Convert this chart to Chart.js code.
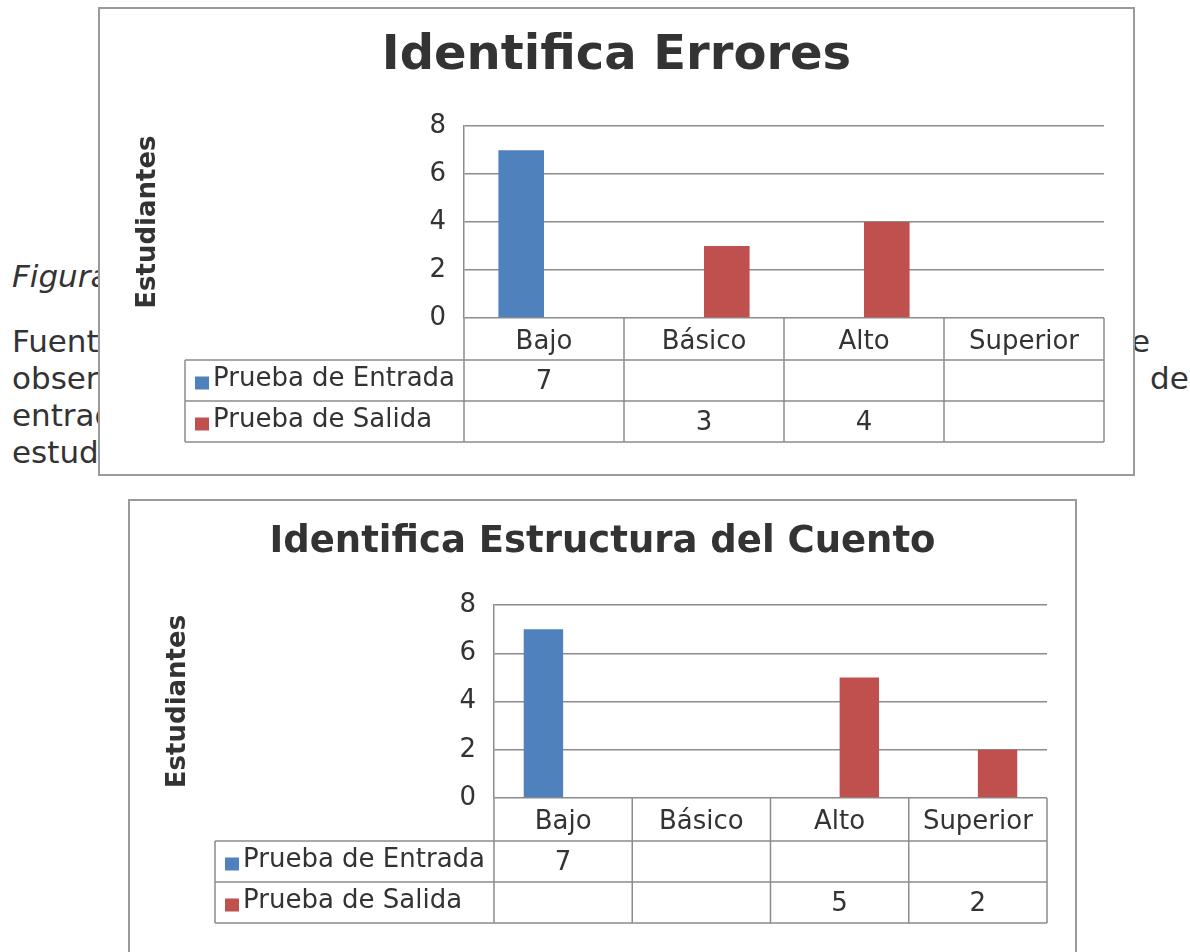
<!DOCTYPE html>
<html>
<head>
<meta charset="utf-8">
<script src="https://cdn.jsdelivr.net/npm/chart.js@4.4.1/dist/chart.umd.min.js"></script>
<style>
  body { margin: 0; width: 1190px; height: 952px; overflow: hidden; position: relative; background: #fff; font-family: "DejaVu Sans"; color: #333; }
  .txt { position: absolute; font-size: 31px; line-height: 1; white-space: nowrap; }
  .box { position: absolute; border: 2px solid #9a9a9a; background: #fff; box-sizing: border-box; }
  .box canvas { display: block; }
</style>
</head>
<body>
<div class="txt" style="left:12px;top:261px;font-style:italic">Figura 3. Resultados de la prueba de entrada y salida</div>
<div class="txt" style="left:12px;top:326px">Fuente: elaboración propia a partir de los resultados. Se</div>
<div class="txt" style="left:12px;top:363px">observa el avance de los estudiantes entre la prueba de</div>
<div class="txt" style="left:12px;top:400px">entrada y la prueba de salida en el nivel de logro de los</div>
<div class="txt" style="left:12px;top:437px">estudiantes.</div>
<div class="txt" style="left:1131px;top:326px">e</div>
<div class="txt" style="left:1150px;top:363px">de</div>

<div class="box" style="left:98px;top:7px;width:1037px;height:469px">
  <canvas id="chartErrores" width="1033" height="465"></canvas>
</div>
<div class="box" style="left:128px;top:499px;width:949px;height:470px">
  <canvas id="chartCuento" width="945" height="466"></canvas>
</div>

<script>
var categories = ['Bajo', 'Básico', 'Alto', 'Superior'];
var seriesNames = ['Prueba de Entrada', 'Prueba de Salida'];
var seriesColors = ['#4F81BD', '#C0504D'];

// Identifica Errores
var erroresEntrada = [7, null, null, null];
var erroresSalida = [null, 3, 4, null];

// Identifica Estructura del Cuento
var cuentoEntrada = [7, null, null, null];
var cuentoSalida = [null, null, 5, 2];

var yMin = 0, yMax = 8, yStep = 2;
var textColor = '#333';
var lineColor = '#8c8c8c';

// draws the data table under the plot, using the x scale for the columns
var dataTablePlugin = {
    id: 'dataTable',
    afterDraw: function (chart, args, opts) {
        var ctx = chart.ctx;
        var xs = chart.scales.x;
        var area = chart.chartArea;
        var n = chart.data.labels.length;
        var half = (xs.getPixelForValue(1) - xs.getPixelForValue(0)) / 2;
        var top = area.bottom;
        var rows = [top + opts.headH, top + opts.headH + opts.rowH, top + opts.headH + 2 * opts.rowH];
        var bottom = rows[2];

        ctx.save();
        ctx.strokeStyle = lineColor;
        ctx.lineWidth = 1.5;
        ctx.beginPath();
        for (var i = 0; i <= n; i++) {
            var px = i < n ? xs.getPixelForValue(i) - half : xs.getPixelForValue(n - 1) + half;
            ctx.moveTo(px, top);
            ctx.lineTo(px, bottom);
        }
        rows.forEach(function (y) {
            ctx.moveTo(opts.legendLeft, y);
            ctx.lineTo(area.right, y);
        });
        ctx.moveTo(opts.legendLeft, rows[0]);
        ctx.lineTo(opts.legendLeft, bottom);
        ctx.stroke();

        ctx.font = '26px "DejaVu Sans"';
        ctx.textBaseline = 'middle';
        chart.data.datasets.forEach(function (ds, d) {
            var cy = (rows[d] + rows[d + 1]) / 2;
            ctx.fillStyle = ds.backgroundColor;
            ctx.fillRect(opts.legendLeft + 10, cy - 4, 14, 13);
            ctx.fillStyle = textColor;
            ctx.textAlign = 'left';
            ctx.fillText(ds.label, opts.legendLeft + 28, cy - 1);
            ctx.textAlign = 'center';
            ds.data.forEach(function (v, i) {
                if (v !== null) {
                    ctx.fillText(String(v), xs.getPixelForValue(i), cy + 2);
                }
            });
        });
        ctx.restore();
    }
};

function makeChart(id, title, entrada, salida, lay) {
    var ctx = document.getElementById(id).getContext('2d');
    return new Chart(ctx, {
        type: 'bar',
        data: {
            labels: categories,
            datasets: [
                { label: seriesNames[0], data: entrada, backgroundColor: seriesColors[0] },
                { label: seriesNames[1], data: salida, backgroundColor: seriesColors[1] }
            ]
        },
        options: {
            responsive: false,
            animation: false,
            devicePixelRatio: 1,
            categoryPercentage: 0.57,
            barPercentage: 1.0,
            layout: { padding: { left: 0, top: 0, right: 0, bottom: lay.padBottom } },
            plugins: {
                legend: { display: false },
                tooltip: { enabled: false },
                title: {
                    display: true,
                    text: title,
                    color: textColor,
                    font: { family: 'DejaVu Sans', size: lay.titleSize, weight: 'bold' },
                    padding: { top: lay.titlePadTop, bottom: lay.titlePadBottom }
                },
                dataTable: { legendLeft: 85, headH: lay.headH, rowH: 41 }
            },
            scales: {
                x: {
                    grid: { display: false },
                    border: { display: false },
                    ticks: {
                        color: textColor,
                        font: { family: 'DejaVu Sans', size: 26 },
                        padding: 1,
                        maxRotation: 0,
                        autoSkip: false
                    },
                    afterFit: function (scale) { scale.height = lay.headH + 82; }
                },
                y: {
                    min: yMin,
                    max: yMax,
                    ticks: {
                        stepSize: yStep,
                        color: textColor,
                        font: { family: 'DejaVu Sans', size: 26 },
                        padding: 18
                    },
                    grid: { color: lineColor, lineWidth: 1.5, drawTicks: false },
                    border: { display: true, color: lineColor, width: 1.5 },
                    title: {
                        display: true,
                        text: 'Estudiantes',
                        color: textColor,
                        font: { family: 'DejaVu Sans', size: 26, weight: 'bold' },
                        padding: { top: 33, bottom: 0 }
                    },
                    afterFit: function (scale) { scale.width = 364; }
                },
                // empty right-hand space so the title stays centred on the whole box
                yRight: {
                    position: 'right',
                    grid: { display: false },
                    border: { display: false },
                    ticks: { display: false },
                    afterFit: function (scale) { scale.width = lay.padRight; }
                }
            }
        },
        plugins: [dataTablePlugin]
    });
}

makeChart('chartErrores', 'Identifica Errores', erroresEntrada, erroresSalida, {
    titleSize: 48, titlePadTop: 19, titlePadBottom: 40.6,
    padRight: 29, padBottom: 32, headH: 42
});
makeChart('chartCuento', 'Identifica Estructura del Cuento', cuentoEntrada, cuentoSalida, {
    titleSize: 37, titlePadTop: 19, titlePadBottom: 40.6,
    padRight: 28, padBottom: 44, headH: 43
});
</script>
</body>
</html>
